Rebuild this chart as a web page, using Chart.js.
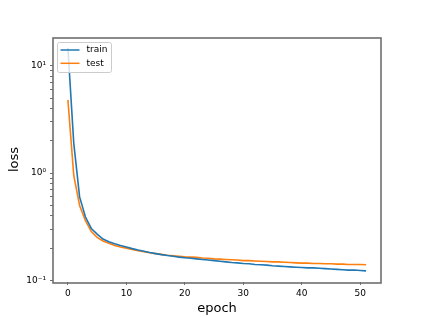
<!DOCTYPE html>
<html>
<head>
<meta charset="utf-8">
<script src="https://cdn.jsdelivr.net/npm/chart.js@4/dist/chart.umd.min.js"></script>
<style>
  html, body { margin: 0; padding: 0; background: #fff; }
  #wrap { position: relative; width: 423px; height: 318px; }
</style>
</head>
<body>
<div id="wrap"><canvas id="lossChart" width="423" height="318"></canvas></div>
<script>
// loss per epoch
const trainLoss = [14.6, 1.9, 0.6, 0.39, 0.305, 0.27, 0.243, 0.23, 0.22, 0.212, 0.205, 0.198, 0.192, 0.187, 0.182, 0.178,
  0.174, 0.171, 0.168, 0.165, 0.163, 0.161, 0.159, 0.157, 0.155, 0.153, 0.151, 0.149, 0.147, 0.146, 0.144, 0.143,
  0.141, 0.14, 0.139, 0.137, 0.136, 0.135, 0.134, 0.133, 0.132, 0.131, 0.131, 0.13, 0.129, 0.128, 0.127, 0.126,
  0.125, 0.125, 0.124, 0.123];
const testLoss = [4.8, 0.95, 0.5, 0.36, 0.285, 0.252, 0.233, 0.222, 0.212, 0.205, 0.2, 0.194, 0.189, 0.185, 0.181, 0.178,
  0.175, 0.172, 0.17, 0.168, 0.166, 0.165, 0.164, 0.162, 0.161, 0.159, 0.158, 0.157, 0.156, 0.155, 0.153, 0.153,
  0.152, 0.151, 0.15, 0.149, 0.149, 0.148, 0.147, 0.146, 0.145, 0.145, 0.144, 0.144, 0.143, 0.143, 0.142, 0.142,
  0.141, 0.141, 0.141, 0.14];
const seriesNames = ["train", "test"];
const seriesColors = ["#1f77b4", "#ff7f0e"];
const xTicks = [0, 10, 20, 30, 40, 50];
const yMajor = [0.1, 1, 10];
const yMajorLabels = ["10\u207B\u00B9", "10\u2070", "10\u00B9"];

const axisColor = "#6e6e6e";
const tickFont = { family: "'DejaVu Sans', sans-serif", size: 9 };
const titleFont = { family: "'DejaVu Sans', sans-serif", size: 13 };

// matplotlib style box round the axes
const frame = {
  id: "frame",
  afterDatasetsDraw(chart) {
    const { ctx, chartArea: a } = chart;
    ctx.save();
    ctx.strokeStyle = axisColor;
    ctx.lineWidth = 1.6;
    ctx.strokeRect(a.left, a.top + 1, a.right - a.left, a.bottom - a.top);
    ctx.restore();
  }
};

// legend in upper left corner, inside the axes
const legendBox = {
  id: "legendBox",
  afterDraw(chart) {
    const { ctx, chartArea: a } = chart;
    const x0 = a.left + 4.5, y0 = a.top + 5.5, w = 54, h = 30;
    ctx.save();
    ctx.fillStyle = "rgba(255,255,255,0.8)";
    ctx.strokeStyle = "#cccccc";
    ctx.lineWidth = 1;
    ctx.beginPath();
    ctx.roundRect(x0, y0, w, h, 2);
    ctx.fill();
    ctx.stroke();
    ctx.font = "9px 'DejaVu Sans', sans-serif";
    ctx.textBaseline = "middle";
    chart.data.datasets.forEach((ds, i) => {
      const y = y0 + 7.5 + i * 13.3;
      ctx.strokeStyle = ds.borderColor;
      ctx.lineWidth = 1.5;
      ctx.beginPath();
      ctx.moveTo(x0 + 3, y);
      ctx.lineTo(x0 + 22, y);
      ctx.stroke();
      ctx.fillStyle = "#000";
      ctx.fillText(ds.label, x0 + 29, y);
    });
    ctx.restore();
  }
};

const datasets = [trainLoss, testLoss].map((vals, i) => ({
  label: seriesNames[i],
  data: vals.map((v, ep) => ({ x: ep, y: v })),
  borderColor: seriesColors[i],
  backgroundColor: seriesColors[i],
  borderWidth: 1.6,
  pointRadius: 0,
  tension: 0,
  fill: false
}));

new Chart(document.getElementById("lossChart"), {
  type: "line",
  data: { datasets },
  plugins: [frame, legendBox],
  options: {
    responsive: false,
    animation: false,
    devicePixelRatio: 1,
    layout: { padding: { top: 37, right: 42, left: 0, bottom: 0 } },
    plugins: { legend: { display: false }, tooltip: { enabled: false } },
    scales: {
      x: {
        type: "linear",
        min: -2.55,
        max: 53.55,
        afterBuildTicks: (s) => { s.ticks = xTicks.map((v) => ({ value: v })); },
        afterFit: (s) => { s.height = 36; },
        border: { display: false },
        grid: { display: true, drawOnChartArea: false, drawTicks: true, tickLength: 3, color: axisColor },
        ticks: { font: tickFont, color: "#000", padding: 3, maxRotation: 0, autoSkip: false },
        title: { display: true, text: "epoch", font: titleFont, color: "#000", padding: { top: 0, bottom: 2 } }
      },
      y: {
        type: "logarithmic",
        min: 0.0968,
        max: 18.5,
        afterBuildTicks: (s) => {
          const vals = [];
          yMajor.forEach((d) => {
            for (let k = 1; k < 10; k++) {
              const v = +(d * k).toPrecision(2);
              if (v >= s.min && v <= s.max) vals.push(v);
            }
          });
          s.ticks = vals.map((v) => ({ value: v }));
        },
        afterFit: (s) => { s.width = 53; },
        border: { display: false },
        grid: { display: true, drawOnChartArea: false, drawTicks: true, tickLength: 3, color: axisColor },
        ticks: {
          font: tickFont,
          color: "#000",
          padding: 4,
          autoSkip: false,
          callback: (v) => {
            const i = yMajor.indexOf(v);
            return i >= 0 ? yMajorLabels[i] : "";
          }
        },
        title: { display: true, text: "loss", font: titleFont, color: "#000", padding: { top: 7, bottom: 0 } }
      }
    }
  }
});
</script>
</body>
</html>
